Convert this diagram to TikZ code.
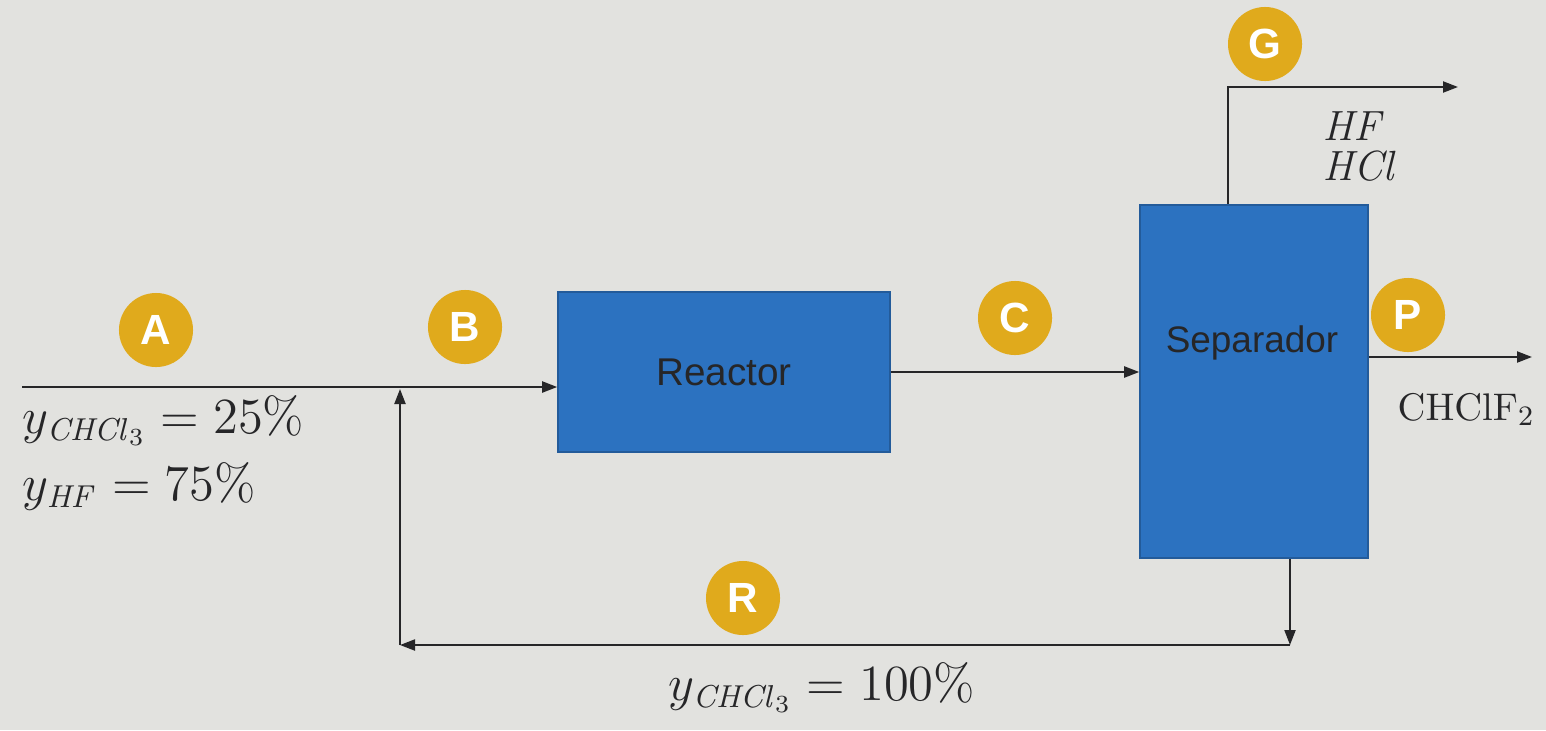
\documentclass[tikz,border=0pt]{standalone}
\usepackage[no-math]{fontspec}
\setmainfont{Liberation Sans}
\usetikzlibrary{arrows.meta}
\definecolor{boxblue}{RGB}{44,114,192}
\definecolor{tagyellow}{RGB}{224,170,28}
\definecolor{paper}{RGB}{226,226,223}
\definecolor{ink}{RGB}{38,38,40}
\tikzset{
  unit/.style={draw=boxblue!80!black,fill=boxblue,text=ink},
  tag/.style={circle,fill=tagyellow,text=white,font=\bfseries\fontsize{12}{12}\selectfont,minimum size=7.4mm,inner sep=0pt},
  flow/.style={-{Triangle[length=1.5mm,width=1.1mm]},draw=ink,line width=0.6pt},
  comp/.style={anchor=base west,inner sep=0pt,text=ink},
}
\begin{document}
\begin{tikzpicture}[x=0.01cm,y=-0.01cm,font=\fontsize{11}{13}\selectfont]
    \fill[paper] (0,0) rectangle (1546,730);
    % units
    \node[unit,minimum width=3.32cm,minimum height=1.6cm] (reactor) at (724,372) {Reactor};
    \node[unit,minimum width=2.28cm,minimum height=3.53cm] (sep) at (1254,381.5) {};
    \node[text=ink,font=\fontsize{10.5}{12}\selectfont] (septxt) at (1252,343) {Separador};
    % streams
    \coordinate (in) at (22,387);
    \coordinate (mix) at (400,389);
    \coordinate (gtap) at (1228,0);
    \coordinate (gout) at (1458,87);
    \coordinate (pout) at (1532,357);
    \coordinate (rtap) at (1290,645);
    \draw[flow] (in)--(in-|reactor.west);
    \draw[flow] (reactor.east)--(reactor.east-|sep.west);
    \draw[flow] (sep.north-|gtap)|-(gout);
    \draw[flow] (pout-|sep.east)--(pout);
    \draw[flow] (sep.south-|rtap)--(rtap);
    \draw[flow] (rtap)--(rtap-|mix)coordinate(rcorner);
    \draw[flow] (rcorner)--(mix);
    % stream tags
    \foreach \n/\x/\y in{A/156/330,B/465/327,C/1015/318,G/1265/44,P/1408/315,R/743/598}
        \node[tag] (\n) at (\x,\y) {\n};
    % compositions
    \begin{scope}[font=\fontsize{13.5}{15}\selectfont]
        \node[comp] (ya1) at (22,433) {$y_{\mathit{CHCl}_3}=25\%$};
        \node[comp] (ya2) at (22,500) {$y_{\mathit{HF}}=75\%$};
        \node[comp] (yr) at (668,700) {$y_{\mathit{CHCl}_3}=100\%$};
    \end{scope}
    \begin{scope}[font=\fontsize{12}{14}\selectfont]
        \node[comp] (g1) at (1322,140) {$\mathit{HF}$};
        \node[comp] (g2) at (1322,180) {$\mathit{HCl}$};
    \end{scope}
    \node[comp,font=\fontsize{11.3}{13}\selectfont] (p1) at (1397,420) {$\mathrm{CHClF}_2$};
\end{tikzpicture}
\end{document}
